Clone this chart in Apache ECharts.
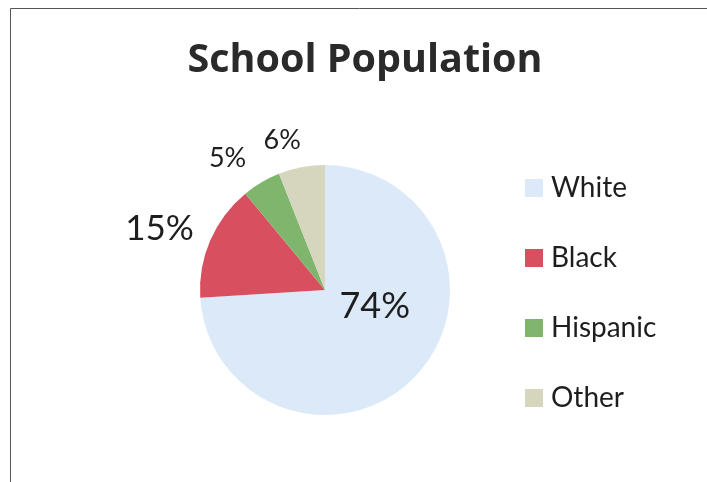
<!DOCTYPE html>
<html>
<head>
<meta charset="utf-8">
<script src="https://cdn.jsdelivr.net/npm/echarts@6/dist/echarts.min.js"></script>
<style>
  html, body { margin: 0; padding: 0; background: #fff; }
  #chart { width: 707px; height: 482px; }
</style>
</head>
<body>
<div id="chart"></div>
<script>
// Datos del gráfico
const categories = ['White', 'Black', 'Hispanic', 'Other'];
const values = [74, 15, 5, 6];
const colors = ['#dce9f8', '#d8505f', '#7fb56c', '#d6d5be'];
const labelSizes = [36, 35, 27, 27];
// pequeños ajustes de posición de las etiquetas
const labelOffsets = [[2, -28], [7, -4], [0, -7], [8, -7]];

const chart = echarts.init(document.getElementById('chart'));

// Etiquetas: la de White va dentro, el resto fuera sin línea
const pieData = categories.map((name, i) => ({
    name: name,
    value: values[i],
    itemStyle: { color: colors[i] },
    label: {
        position: i === 0 ? 'inside' : 'outside',
        fontSize: labelSizes[i],
        offset: labelOffsets[i]
    }
}));

chart.setOption({
    animation: false,
    title: {
        text: 'School Population',
        left: 360,
        top: 36,
        textAlign: 'center',
        textStyle: { fontFamily: 'Open Sans', fontWeight: 'bold', fontSize: 39.5, color: '#2a2a2a' }
    },
    legend: {
        orient: 'vertical',
        left: 525,
        top: 174,
        padding: 0,
        itemWidth: 18,
        itemHeight: 18,
        itemGap: 42,
        icon: 'rect',
        data: categories,
        textStyle: { fontFamily: 'Lato', fontSize: 28, lineHeight: 28, color: '#1e1e1e', padding: [0, 0, 0, 3] }
    },
    graphic: [{
        type: 'rect',
        shape: { x: 10.5, y: 8.5, width: 760, height: 520 },
        style: { fill: 'none', stroke: '#555', lineWidth: 1 },
        silent: true
    }],
    series: [{
        type: 'pie',
        center: [325, 290],
        radius: 125,
        startAngle: 90,
        clockwise: true,
        avoidLabelOverlap: false,
        label: {
            show: true,
            formatter: '{c}%',
            fontFamily: 'Lato',
            color: '#1e1e1e'
        },
        labelLine: { show: false, length: 20, length2: 0 },
        emphasis: { disabled: true },
        data: pieData
    }]
});
</script>
</body>
</html>
